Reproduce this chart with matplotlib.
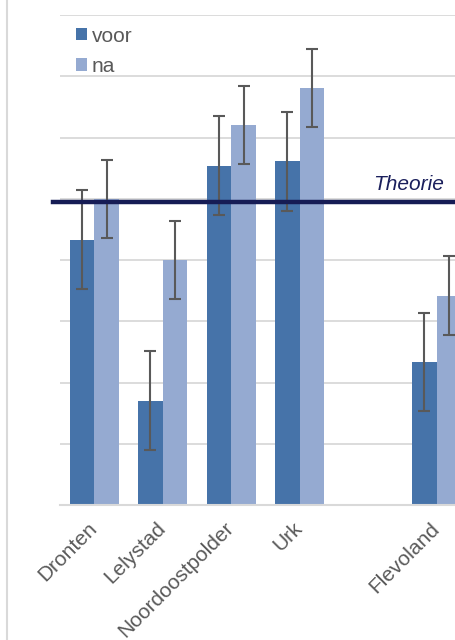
import matplotlib.pyplot as plt
import numpy as np
from matplotlib.lines import Line2D
from matplotlib.transforms import ScaledTranslation

plt.rcParams['font.family'] = ['Liberation Sans', 'DejaVu Sans']

categories = ['Dronten', 'Lelystad', 'Noordoostpolder', 'Urk', '', 'Flevoland']
voor = [4.33, 1.70, 5.54, 5.61, np.nan, 2.33]
na = [5.00, 4.00, 6.20, 6.81, np.nan, 3.42]
voor_err = [0.81, 0.81, 0.81, 0.81, np.nan, 0.80]
na_err = [0.64, 0.64, 0.64, 0.64, np.nan, 0.64]
theorie = 4.95

c_voor = '#4673a9'
c_na = '#95aad1'
grey = '#595959'

fig = plt.figure(figsize=(4.55, 6.4), dpi=100)
ax = fig.add_axes([60/455, 135/640, 395/455, 490/640])

x = np.arange(len(categories))
w = 0.36
ekw = dict(ecolor=grey, elinewidth=1.5, capsize=4.5, capthick=1.5)
ax.bar(x - w/2, voor, w, color=c_voor, yerr=voor_err, error_kw=ekw, label='voor', zorder=2)
ax.bar(x + w/2, na, w, color=c_na, yerr=na_err, error_kw=ekw, label='na', zorder=2)

# theorie line, starts a bit left of the plot area
ax.plot([-0.6, 6], [theorie, theorie], color='#161c55', lw=3.2, clip_on=False, zorder=3)
ax.text(5.1, theorie + 0.13, 'Theorie', color='#1a1f5c', style='italic',
        fontsize=15, ha='right', va='bottom')

ax.set_xlim(-0.5, -0.5 + 395/68.5)
ax.set_ylim(0, 8)
ax.set_yticks(np.arange(0, 9))
ax.yaxis.grid(True, color='#d9d9d9', lw=1.3, zorder=0)
ax.set_axisbelow(True)
ax.tick_params(axis='y', left=False, labelleft=False)
ax.tick_params(axis='x', length=0, pad=10, labelcolor=grey, labelsize=15)
ax.set_xticks(x)
ax.set_xticklabels(categories, rotation=45, ha='right', rotation_mode='anchor')
shift = ScaledTranslation(-7/100, 0, fig.dpi_scale_trans)
for lab in ax.get_xticklabels():
    lab.set_transform(lab.get_transform() + shift)
for s in ['top', 'right', 'left']:
    ax.spines[s].set_visible(False)
ax.spines['bottom'].set_color('#d9d9d9')
ax.spines['bottom'].set_linewidth(1.5)

leg = ax.legend(loc='upper left', bbox_to_anchor=(0.04, 0.9765), frameon=False,
                fontsize=15, handlelength=0.55, handleheight=0.55, handletextpad=0.2,
                labelspacing=0.55, labelcolor=grey, borderpad=0, borderaxespad=0)

# outer chart border on the left
fig.add_artist(Line2D([6.5/455, 6.5/455], [0, 1], color='#d9d9d9', lw=1.5))

fig.savefig('out.png', dpi=100)
